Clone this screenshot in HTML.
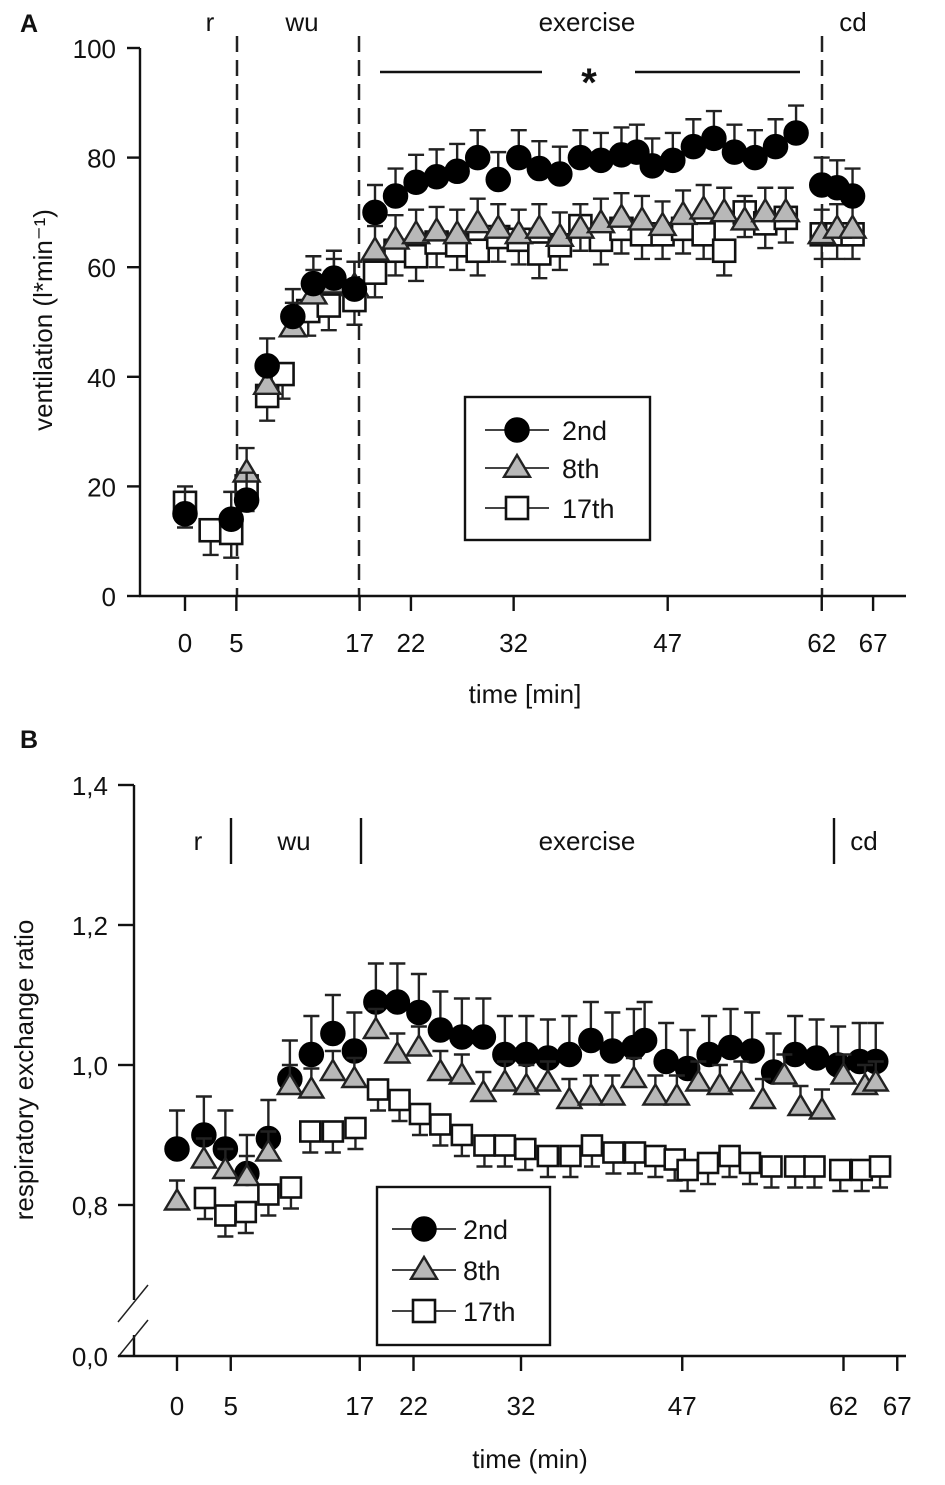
<!DOCTYPE html>
<html><head><meta charset="utf-8"><style>
body{margin:0;background:#fff}
svg{display:block;font-family:"Liberation Sans",Arial,sans-serif}
</style></head><body>
<svg id="chart" width="945" height="1485" viewBox="0 0 945 1485" xmlns="http://www.w3.org/2000/svg">
<g id="A"></g>
<g id="B"></g>
</svg>
<script>
// ---------- Panel A data (ventilation, l/min) ----------
const aTicksX = [0,5,17,22,32,47,62,67];
const aTicksY = [0,20,40,60,80,100];
const aT2 = [0,4.5,6,8,10.5,12.5,14.5,16.5,18.5,20.5,22.5,24.5,26.5,28.5,30.5,32.5,34.5,36.5,38.5,40.5,42.5,44,45.5,47.5,49.5,51.5,53.5,55.5,57.5,59.5,62,63.5,65];
const aV2 = [15,14,17.5,42,51,57,58,56,70,73,75.5,76.5,77.5,80,76,80,78,77,80,79.5,80.5,81,78.5,79.5,82,83.5,81,80,82,84.5,75,74.5,73];
const aE2 = 5;
const aT8 = [6,8,10.5,12.5,14.5,16.5,18.5,20.5,22.5,24.5,26.5,28.5,30.5,32.5,34.5,36.5,38.5,40.5,42.5,44.5,46.5,48.5,50.5,52.5,54.5,56.5,58.5,62,63.5,65];
const aV8 = [22.5,38.5,49,55,57,56.5,63,65,66,66.5,66,68,67,66,67,65.5,67,68,69,68.5,67.5,69.5,70.5,70,68.5,70,70,66,67,67];
const aE8 = 4.5;
const aT17 = [0,2.5,4.5,6,8,9.5,12,14,16.5,18.5,20.5,22.5,24.5,26.5,28.5,30.5,32.5,34.5,36.5,38.5,40.5,42.5,44.5,46.5,48.5,50.5,52.5,54.5,56.5,58.5,62,63.5,65];
const aV17 = [17,12,11.5,20,36.5,40.5,52,53,54,59,63,62,64.5,64,63,65.5,65,62.5,64,67.5,65,67,66,66,67,66,63,70,68,69,66,66,66];
const aE17 = 4.5;
// ---------- Panel B data (RER) ----------
const bTicksX = [0,5,17,22,32,47,62,67];
const bTicksY = [0.8,1.0,1.2,1.4];
const bT2 = [0,2.5,4.5,6.5,8.5,10.5,12.5,14.5,16.5,18.5,20.5,22.5,24.5,26.5,28.5,30.5,32.5,34.5,36.5,38.5,40.5,42.5,43.5,45.5,47.5,49.5,51.5,53.5,55.5,57.5,59.5,61.5,63.5,65];
const bV2 = [0.88,0.90,0.88,0.845,0.895,0.98,1.015,1.045,1.02,1.09,1.09,1.075,1.05,1.04,1.04,1.015,1.015,1.01,1.015,1.035,1.02,1.025,1.035,1.005,0.995,1.015,1.025,1.02,0.99,1.015,1.01,1.0,1.005,1.005];
const bE2 = 0.055;
const bT8 = [0,2.5,4.5,6.5,8.5,10.5,12.5,14.5,16.5,18.5,20.5,22.5,24.5,26.5,28.5,30.5,32.5,34.5,36.5,38.5,40.5,42.5,44.5,46.5,48.5,50.5,52.5,54.5,56.5,58,60,62,64,65];
const bV8 = [0.805,0.865,0.85,0.84,0.875,0.97,0.965,0.99,0.98,1.05,1.015,1.025,0.99,0.985,0.96,0.975,0.97,0.975,0.95,0.955,0.955,0.98,0.955,0.955,0.975,0.97,0.975,0.95,0.985,0.94,0.935,0.985,0.97,0.975];
const bE8 = 0.03;
const bT17 = [2.6,4.5,6.4,8.5,10.6,12.4,14.5,16.6,18.7,20.7,22.6,24.5,26.5,28.6,30.5,32.4,34.5,36.6,38.6,40.6,42.6,44.5,46.3,47.5,49.4,51.4,53.3,55.3,57.5,59.3,61.7,63.7,65.4];
const bV17 = [0.81,0.785,0.79,0.815,0.825,0.905,0.905,0.91,0.965,0.95,0.93,0.915,0.90,0.885,0.885,0.88,0.87,0.87,0.885,0.875,0.875,0.87,0.865,0.85,0.86,0.87,0.86,0.855,0.855,0.855,0.85,0.85,0.855];
const bE17 = 0.03;

const NS="http://www.w3.org/2000/svg";
function mk(parent,tag,attrs,text){const e=document.createElementNS(NS,tag);for(const k in attrs)e.setAttribute(k,attrs[k]);if(text!==undefined)e.textContent=text;parent.appendChild(e);return e;}

const axA = t => 185 + t*10.27;
const ayA = v => 596 - v*5.48;
const axB = t => 177 + t*10.75;
const ayB = v => v<=0.01 ? 1356 : 1205 - (v-0.8)*700;

function marker(g,type,cx,cy,r){
  let e;
  if(type==='circle'){e=mk(g,'circle',{cx:cx,cy:cy,r:r+1,fill:'#000',stroke:'#000','stroke-width':1.5});}
  else if(type==='tri'){e=mk(g,'polygon',{points:`${cx},${cy-r-2} ${cx-r-2},${cy+r*0.8} ${cx+r+2},${cy+r*0.8}`,fill:'#b8b8b8',stroke:'#222','stroke-width':2.4});}
  else {e=mk(g,'rect',{x:cx-r,y:cy-r,width:2*r,height:2*r,fill:'#fff',stroke:'#111','stroke-width':2.6});}
  return e;
}
function series(g,name,type,T,V,E,sx,sy,r,up){
  const sg=mk(g,'g',{});
  
  
  for(let i=0;i<T.length;i++){
    const x=sx(T[i]),y=sy(V[i]);
    const ye = up ? sy(V[i]+E) : sy(V[i]-E);
    const eb=mk(sg,'path',{d:`M${x},${y}V${ye}M${x-8},${ye}H${x+8}`,stroke:'#222','stroke-width':2.4,fill:'none'});
    
    
  }
  for(let i=0;i<T.length;i++){
    const m=marker(sg,type,sx(T[i]),sy(V[i]),r);
    
    
  }
}
function txt(g,x,y,s,size,anchor,name,extra){
  const e=mk(g,'text',Object.assign({x:x,y:y,'font-size':size,'text-anchor':anchor||'middle',fill:'#111'},extra||{}),s);
  
  
  return e;
}
function legend(g,x,y,w,h,rows,lx,tx,r){
  const lg=mk(g,'g',{});
  
  
  mk(lg,'rect',{x:x,y:y,width:w,height:h,fill:'#fff',stroke:'#111','stroke-width':2.4});
  rows.forEach(rw=>{
    const eg=mk(lg,'g',{});
    
    
    mk(eg,'line',{x1:lx-32,x2:lx+32,y1:rw[2],y2:rw[2],stroke:'#444','stroke-width':2});
    marker(eg,rw[0],lx,rw[2],r);
    txt(eg,tx,rw[2]+10,rw[1],27,'start','legend-label');
  });
}

// ---------- Panel A ----------
(function(){
  const g=document.getElementById('A');
  txt(g,20,32,'A',25,'start','panel-label-a',{'font-weight':'bold'});
  [237,359,822].forEach(x=>{const l=mk(g,'line',{x1:x,x2:x,y1:36,y2:596,stroke:'#222','stroke-width':2.5,'stroke-dasharray':'16,8'});
    });
  mk(g,'line',{x1:140,x2:140,y1:48,y2:597,stroke:'#111','stroke-width':2.4});
  mk(g,'line',{x1:139,x2:906,y1:596,y2:596,stroke:'#111','stroke-width':2.4});
  aTicksY.forEach(v=>{mk(g,'line',{x1:127,x2:140,y1:ayA(v),y2:ayA(v),stroke:'#111','stroke-width':2.4});
    txt(g,116,ayA(v)+10,String(v),26,'end','y-tick-label');});
  aTicksX.forEach(t=>{mk(g,'line',{x1:axA(t),x2:axA(t),y1:596,y2:611,stroke:'#111','stroke-width':2.4});
    txt(g,axA(t),652,String(t),26,'middle','x-tick-label');});
  txt(g,525,703,'time [min]',26,'middle','x-axis-title');
  txt(g,52,320,'ventilation (l*min\u207B\u00B9)',26,'middle','y-axis-title',{transform:'rotate(-90 52 320)'});
  txt(g,210,31,'r',26,'middle','phase-label-rest');
  txt(g,302,31,'wu',26,'middle','phase-label-warmup');
  txt(g,587,31,'exercise',26,'middle','phase-label-exercise');
  txt(g,853,31,'cd',26,'middle','phase-label-cooldown');
  mk(g,'path',{d:'M380,72H542M635,72H800',stroke:'#111','stroke-width':2.4});
  txt(g,589,96,'*',40,'middle','significance-star',{'font-weight':'bold'});
  series(g,'series-17th','sq',aT17,aV17,aE17,axA,ayA,11,false);
  series(g,'series-8th','tri',aT8,aV8,aE8,axA,ayA,11,true);
  series(g,'series-2nd','circle',aT2,aV2,aE2,axA,ayA,11,true);
  legend(g,465,397,185,143,[['circle','2nd',430],['tri','8th',468],['sq','17th',508]],517,562,11);
})();

// ---------- Panel B ----------
(function(){
  const g=document.getElementById('B');
  txt(g,20,748,'B',25,'start','panel-label-b',{'font-weight':'bold'});
  mk(g,'path',{d:'M134,785V1300M134,1335V1357',stroke:'#111','stroke-width':2.4,fill:'none'});
  mk(g,'path',{d:'M118,1322L148,1285M118,1357L148,1320',stroke:'#222','stroke-width':1.5,fill:'none'});
  mk(g,'line',{x1:118,x2:906,y1:1356,y2:1356,stroke:'#111','stroke-width':2.4});
  bTicksY.forEach(v=>{mk(g,'line',{x1:118,x2:134,y1:ayB(v),y2:ayB(v),stroke:'#111','stroke-width':2.4});
    txt(g,108,ayB(v)+10,String(v.toFixed(1)).replace('.',','),26,'end','y-tick-label');});
  txt(g,108,1366,'0,0',26,'end','y-tick-label');
  bTicksX.forEach(t=>{mk(g,'line',{x1:axB(t),x2:axB(t),y1:1356,y2:1371,stroke:'#111','stroke-width':2.4});
    txt(g,axB(t),1415,String(t),26,'middle','x-tick-label');});
  txt(g,530,1468,'time (min)',26,'middle','x-axis-title');
  txt(g,33,1070,'respiratory exchange ratio',26,'middle','y-axis-title',{transform:'rotate(-90 33 1070)'});
  [231,361,834].forEach(x=>{const l=mk(g,'line',{x1:x,x2:x,y1:818,y2:864,stroke:'#111','stroke-width':2.4});
    });
  txt(g,198,850,'r',26,'middle','phase-label-rest');
  txt(g,294,850,'wu',26,'middle','phase-label-warmup');
  txt(g,587,850,'exercise',26,'middle','phase-label-exercise');
  txt(g,864,850,'cd',26,'middle','phase-label-cooldown');
  series(g,'series-2nd','circle',bT2,bV2,bE2,axB,ayB,11,true);
  series(g,'series-8th','tri',bT8,bV8,bE8,axB,ayB,10,true);
  series(g,'series-17th','sq',bT17,bV17,bE17,axB,ayB,10,false);
  legend(g,377,1187,173,158,[['circle','2nd',1229],['tri','8th',1270],['sq','17th',1311]],424,463,11);
})();
</script>
</body></html>
